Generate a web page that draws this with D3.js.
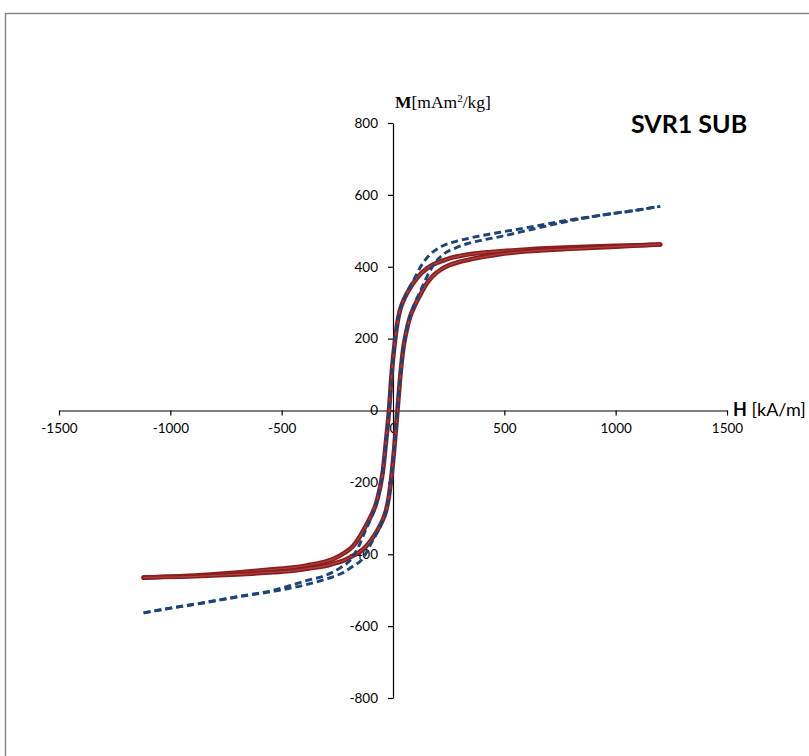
<!DOCTYPE html>
<html>
<head>
<meta charset="utf-8">
<script src="https://cdn.jsdelivr.net/npm/d3@7"></script>
<style>
  html, body { margin: 0; padding: 0; background: #fff; }
  svg { display: block; }
</style>
</head>
<body>
<svg id="chart" width="809" height="756"></svg>
<script>
// Hysteresis loops, M [mAm²/kg] versus H [kA/m]
// Solid series: descending branch (positive to negative saturation)
const redDownH = [1200, 1000, 800, 600, 480, 420, 359, 300, 256, 220, 180, 150, 121, 100, 76, 50, 31, 20, 9, -5, -18, -32, -45, -60, -76, -100, -121, -150, -180, -220, -267, -300, -386, -450, -536, -700, -835, -1120];
const redDownM = [462, 458, 454, 448, 443, 440, 436, 430, 424, 416, 406, 394, 378, 362, 340, 310, 278, 245, 195, 110, 0, -90, -167, -220, -259, -295, -320, -352, -378, -397, -413, -420, -431, -437, -442, -451, -457, -465];
// Solid series: ascending branch (negative to positive saturation)
const redUpH = [-1120, -835, -700, -536, -450, -386, -300, -267, -220, -177, -150, -121, -100, -76, -50, -31, -20, -9, 5, 20, 32, 45, 60, 76, 100, 121, 150, 180, 220, 256, 300, 359, 420, 480, 600, 800, 1000, 1200];
const redUpM = [-465, -460, -456, -450, -446, -440, -432, -426, -417, -403, -394, -378, -362, -340, -310, -278, -245, -195, -110, 0, 90, 167, 220, 259, 295, 320, 352, 375, 394, 405, 414, 422, 429, 435, 443, 450, 456, 462];

// Dashed series: descending branch
const blueDownH = [1200, 1100, 931, 781, 631, 482, 400, 332, 280, 227, 190, 167, 140, 122, 100, 76, 50, 31, 20, 9, -5, -18, -32, -45, -60, -76, -100, -121, -152, -190, -237, -300, -386, -450, -536, -700, -835, -1000, -1120];
const blueDownM = [568, 558, 543, 529, 512, 496, 487, 478, 470, 459, 446, 435, 415, 398, 372, 345, 312, 280, 246, 195, 110, 0, -90, -167, -222, -262, -302, -330, -375, -415, -438, -458, -473, -485, -500, -518, -533, -550, -563];
// Dashed series: ascending branch
const blueUpH = [-1120, -1000, -835, -700, -536, -450, -386, -267, -227, -177, -140, -122, -100, -76, -50, -31, -20, -9, 5, 20, 32, 45, 60, 76, 100, 121, 152, 190, 227, 280, 332, 400, 482, 631, 781, 931, 1100, 1200];
const blueUpM = [-563, -550, -534, -519, -503, -493, -484, -462, -452, -432, -415, -398, -372, -345, -312, -280, -246, -195, -110, 0, 90, 167, 222, 262, 302, 330, 372, 412, 435, 452, 464, 474, 484, 505, 526, 543, 558, 568];

const xTicks = [-1500, -1000, -500, 0, 500, 1000, 1500];
const yTicks = [-800, -600, -400, -200, 0, 200, 400, 600, 800];

const svg = d3.select("#chart");

// outer frame
svg.append("rect")
  .attr("x", 5.5).attr("y", 13.5)
  .attr("width", 830).attr("height", 780)
  .attr("fill", "#fff")
  .attr("stroke", "#808080")
  .attr("stroke-width", 1.4);

const x = d3.scaleLinear().domain([-1500, 1500]).range([59, 727]);
const y = d3.scaleLinear().domain([-800, 800]).range([698, 123]);

const tickFont = "Lato, 'Open Sans', sans-serif";
const minus = d => d < 0 ? "-" + Math.abs(d) : String(d);

// horizontal axis through M = 0
const xAxis = d3.axisBottom(x).tickValues(xTicks).tickSize(5).tickSizeOuter(0).tickFormat(minus);
const gx = svg.append("g").attr("transform", `translate(0,${y(0)})`).call(xAxis);
gx.select(".domain").attr("stroke", "#000").attr("stroke-width", 1.2);
gx.selectAll(".tick line").attr("stroke", "#000").attr("stroke-width", 1.2);
gx.selectAll(".tick text")
  .attr("font-family", tickFont).attr("font-size", 13.5).attr("fill", "#000")
  .attr("dy", "1.05em");

// vertical axis through H = 0
const yAxis = d3.axisLeft(y).tickValues(yTicks).tickSize(5).tickSizeOuter(0).tickFormat(minus);
const gy = svg.append("g").attr("transform", `translate(${x(0)},0)`).call(yAxis);
gy.select(".domain").attr("stroke", "#000").attr("stroke-width", 1.2);
gy.selectAll(".tick line").attr("stroke", "#000").attr("stroke-width", 1.2);
gy.selectAll(".tick text")
  .attr("font-family", tickFont).attr("font-size", 13.5).attr("fill", "#000")
  .attr("x", -15);

// loop curves, each branch drawn in order of increasing H
const line = d3.line()
  .x(d => x(d[0]))
  .y(d => y(d[1]))
  .curve(d3.curveMonotoneX);

const branch = (hs, ms) => hs.map((h, i) => [h, ms[i]]).sort((a, b) => a[0] - b[0]);

const plot = svg.append("g");

[branch(redDownH, redDownM), branch(redUpH, redUpM)].forEach(pts => {
  plot.append("path").datum(pts)
    .attr("d", line)
    .attr("fill", "none")
    .attr("stroke", "#8e1c1c")
    .attr("stroke-width", 4.6)
    .attr("stroke-linecap", "round")
    .attr("stroke-linejoin", "round");
  plot.append("path").datum(pts)
    .attr("d", line)
    .attr("fill", "none")
    .attr("stroke", "#c87474")
    .attr("stroke-opacity", 0.45)
    .attr("stroke-width", 1.3);
});

[branch(blueDownH, blueDownM), branch(blueUpH, blueUpM)].forEach(pts => {
  plot.append("path").datum(pts)
    .attr("d", line)
    .attr("fill", "none")
    .attr("stroke", "#1d4478")
    .attr("stroke-width", 2.9)
    .attr("stroke-dasharray", "7,4");
});

// axis titles
const mTitle = svg.append("text")
  .attr("x", 395).attr("y", 108)
  .attr("font-family", "'Liberation Serif', 'DejaVu Serif', serif")
  .attr("font-size", 17.5).attr("fill", "#000");
mTitle.append("tspan").attr("font-weight", "bold").text("M");
mTitle.append("tspan").text("[mAm");
mTitle.append("tspan").attr("font-size", 11).attr("dy", -6).text("2");
mTitle.append("tspan").attr("dy", 6).text("/kg]");

const hTitle = svg.append("text")
  .attr("x", 733).attr("y", 416)
  .attr("font-family", "Lato, 'Open Sans', sans-serif")
  .attr("font-size", 18).attr("fill", "#000");
hTitle.append("tspan").attr("font-weight", "bold").text("H");
hTitle.append("tspan").text(" [kA/m]");

// sample label
svg.append("text")
  .attr("x", 631).attr("y", 133)
  .attr("font-family", "Lato, 'Open Sans', sans-serif")
  .attr("font-weight", "bold")
  .attr("font-size", 25).attr("fill", "#000")
  .text("SVR1 SUB");
</script>
</body>
</html>
